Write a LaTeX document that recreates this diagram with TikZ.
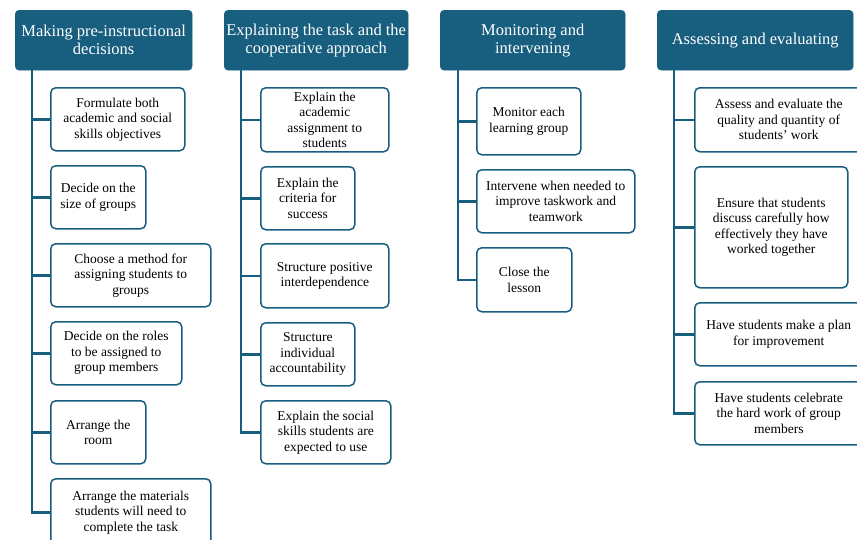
\documentclass[tikz,border=0pt]{standalone}
\usepackage{fontspec}
\setmainfont{Liberation Serif}
\usepackage{tikz}
\usetikzlibrary{positioning}
\definecolor{deepteal}{RGB}{24,94,127}
\tikzstyle{head} = [draw=deepteal, fill=deepteal, text=white, rounded corners=4pt, align=center, anchor=north west, inner sep=1pt, font=\fontsize{16.5}{18}\selectfont]
\tikzstyle{task} = [draw=deepteal, fill=white, line width=1.5pt, rounded corners=5pt, align=center, anchor=north west, inner sep=1pt, font=\fontsize{13.5}{15.5}\selectfont]
\tikzstyle{link} = [deepteal, line width=2.5pt]

\begin{document}
\begin{tikzpicture}[x=1pt, y=-1pt]
        \clip (0,0) rectangle (857,539);
        % headers
        \node[head, minimum width=177pt, minimum height=60pt] (h1) at (15,10) {Making pre-instructional\\decisions};
        \node[head, minimum width=184pt, minimum height=60pt] (h2) at (224,10) {Explaining the task and the\\cooperative approach};
        \node[head, minimum width=185pt, minimum height=60pt] (h3) at (440,10) {Monitoring and\\intervening};
        \node[head, minimum width=196pt, minimum height=60pt] (h4) at (657,10) {Assessing and evaluating};
        \coordinate (t1) at (32,70);
        \coordinate (t2) at (241,70);
        \coordinate (t3) at (458,70);
        \coordinate (t4) at (674,70);

        % column 1
        \node[task, minimum width=134pt, minimum height=63pt] (c1) at (50,87) {Formulate both\\academic and social\\skills objectives};
        \node[task, minimum width=95pt, minimum height=63pt] (c2) at (50,165) {Decide on the\\size of groups};
        \node[task, minimum width=160pt, minimum height=63pt] (c3) at (50,243) {Choose a method for\\assigning students to\\groups};
        \node[task, minimum width=131pt, minimum height=63pt] (c4) at (50,321) {Decide on the roles\\to be assigned to\\group members};
        \node[task, minimum width=95pt, minimum height=63pt] (c5) at (50,400) {Arrange the\\room};
        \node[task, minimum width=160pt, minimum height=67pt] (c6) at (50,478) {Arrange the materials\\students will need to\\complete the task};

        % column 2
        \node[task, minimum width=128pt, minimum height=64pt] (d1) at (260,87) {Explain the\\academic\\assignment to\\students};
        \node[task, minimum width=94pt, minimum height=63pt] (d2) at (260,166) {Explain the\\criteria for\\success};
        \node[task, minimum width=128pt, minimum height=64pt] (d3) at (260,243) {Structure positive\\interdependence};
        \node[task, minimum width=94pt, minimum height=63pt] (d4) at (260,322) {Structure\\individual\\accountability};
        \node[task, minimum width=130pt, minimum height=63pt] (d5) at (260,400) {Explain the social\\skills students are\\expected to use};

        % column 3
        \node[task, minimum width=104pt, minimum height=67pt] (e1) at (476,87) {Monitor each\\learning group};
        \node[task, minimum width=158pt, minimum height=63pt] (e2) at (476,169) {Intervene when needed to\\improve taskwork and\\teamwork};
        \node[task, minimum width=95pt, minimum height=64pt] (e3) at (476,247) {Close the\\lesson};

        % column 4
        \node[task, minimum width=168pt, minimum height=64pt] (f1) at (694,87) {Assess and evaluate the\\quality and quantity of\\students' work};
        \node[task, minimum width=153pt, minimum height=121pt] (f2) at (694,166) {Ensure that students\\discuss carefully how\\effectively they have\\worked together};
        \node[task, minimum width=168pt, minimum height=63pt] (f3) at (694,302) {Have students make a plan\\for improvement};
        \node[task, minimum width=168pt, minimum height=63pt] (f4) at (694,381) {Have students celebrate\\the hard work of group\\members};

        \draw[link] (t1) |- (c1.west) (t1) |- (c2.west) (t1) |- (c3.west)
        (t1) |- (c4.west) (t1) |- (c5.west) (t1) |- (c6.west);
        \draw[link] (t2) |- (d1.west) (t2) |- (d2.west) (t2) |- (d3.west)
        (t2) |- (d4.west) (t2) |- (d5.west);
        \draw[link] (t3) |- (e1.west) (t3) |- (e2.west) (t3) |- (e3.west);
        \draw[link] (t4) |- (f1.west) (t4) |- (f2.west) (t4) |- (f3.west)
        (t4) |- (f4.west);
      \end{tikzpicture}
\end{document}
